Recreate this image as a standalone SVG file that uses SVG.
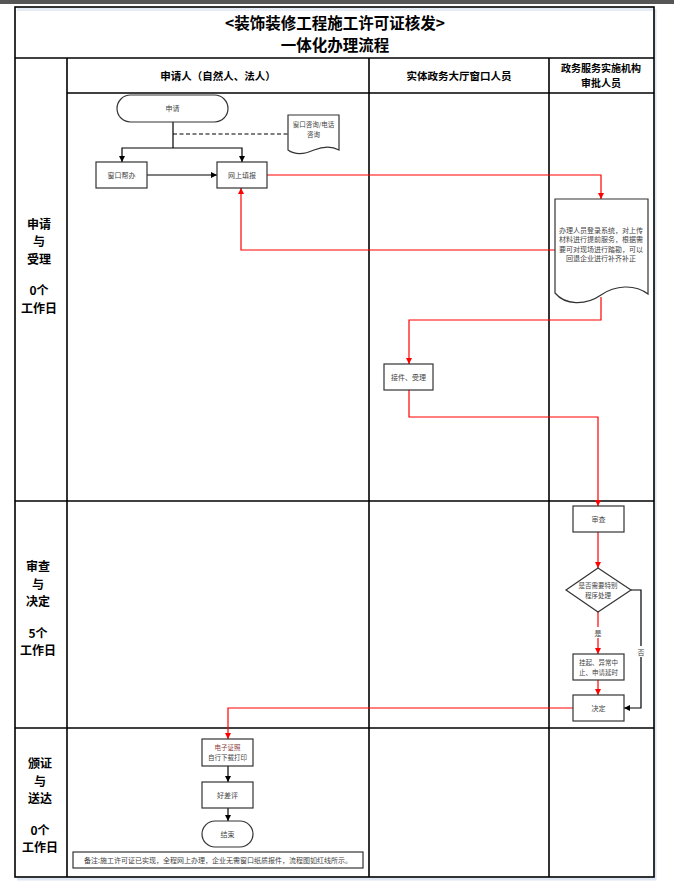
<svg xmlns="http://www.w3.org/2000/svg" width="674" height="895" viewBox="0 0 674 895">
<style>
.grid{fill:none;stroke:#000;stroke-width:1.6}
.box{fill:#fff;stroke:#333;stroke-width:1.2}
.t{font-family:"Noto Sans CJK SC","Liberation Sans",sans-serif;font-size:7px;fill:#444;text-anchor:middle}
.s{font-size:6.5px}
.h{font-family:"Noto Sans CJK SC","Liberation Sans",sans-serif;font-weight:bold;fill:#000;text-anchor:middle}
.lane{font-size:12px}
.red{fill:none;stroke:#ff0000;stroke-width:1.2}
.blk{fill:none;stroke:#000;stroke-width:1.2}
</style>
<defs>
<marker id="ar" viewBox="0 0 10 10" refX="10" refY="5" markerWidth="6" markerHeight="6" orient="auto" markerUnits="userSpaceOnUse"><path d="M0,0 L10,5 L0,10 Z" fill="#ff0000"/></marker>
<marker id="ab" viewBox="0 0 10 10" refX="10" refY="5" markerWidth="6" markerHeight="6" orient="auto" markerUnits="userSpaceOnUse"><path d="M0,0 L10,5 L0,10 Z" fill="#000"/></marker>
</defs>
<rect x="0" y="0" width="674" height="895" fill="#fff"/>
<rect x="0" y="0" width="674" height="4" fill="#555"/>
<rect x="17" y="8" width="636" height="3" fill="#e6ecf5"/>
<path d="M655,9 V879 H17" fill="none" stroke="#dde6f2" stroke-width="3"/>
<g id="frame">
<rect class="grid" x="15" y="7" width="639" height="870" stroke-width="2"/>
<line class="grid" x1="15" y1="58" x2="654" y2="58"/>
<line class="grid" x1="67" y1="93" x2="654" y2="93"/>
<line class="grid" x1="67" y1="58" x2="67" y2="877"/>
<line class="grid" x1="369" y1="58" x2="369" y2="877"/>
<line class="grid" x1="549" y1="58" x2="549" y2="877"/>
<line class="grid" x1="15" y1="501" x2="654" y2="501"/>
<line class="grid" x1="15" y1="728" x2="654" y2="728"/>
</g>
<g id="title">
<text class="h" x="335" y="28.5" font-size="15.5">&lt;装饰装修工程施工许可证核发&gt;</text>
<text class="h" x="335" y="50.5" font-size="15.5">一体化办理流程</text>
</g>
<g id="headers">
<text class="h" x="218" y="80" font-size="10.5">申请人（自然人、法人）</text>
<text class="h" x="459" y="80" font-size="10.5">实体政务大厅窗口人员</text>
<text class="h" x="601" y="72" font-size="10">政务服务实施机构</text>
<text class="h" x="601" y="86.5" font-size="10">审批人员</text>
</g>
<g id="lane1">
<text class="h lane" x="39" y="228.5">申请</text>
<text class="h lane" x="39" y="246">与</text>
<text class="h lane" x="39" y="263.5">受理</text>
<text class="h lane" x="39" y="295">0个</text>
<text class="h lane" x="39" y="312.5">工作日</text>
</g>
<g id="lane2">
<text class="h lane" x="38" y="571">审查</text>
<text class="h lane" x="38" y="588.5">与</text>
<text class="h lane" x="38" y="606">决定</text>
<text class="h lane" x="38" y="637.5">5个</text>
<text class="h lane" x="38" y="655">工作日</text>
</g>
<g id="lane3">
<text class="h lane" x="40" y="768">颁证</text>
<text class="h lane" x="40" y="785.5">与</text>
<text class="h lane" x="40" y="803">送达</text>
<text class="h lane" x="40" y="834.5">0个</text>
<text class="h lane" x="40" y="852">工作日</text>
</g>
<g id="connectors">
<line class="blk" x1="173" y1="122" x2="173" y2="148"/>
<line class="blk" x1="173" y1="134" x2="288" y2="134" stroke-dasharray="4,2.5"/>
<polyline class="blk" points="173,148 122,148 122,162" marker-end="url(#ab)"/>
<polyline class="blk" points="173,148 242,148 242,162" marker-end="url(#ab)"/>
<line class="blk" x1="147" y1="175" x2="217" y2="175" marker-end="url(#ab)"/>
<polyline class="red" points="267,175 601,175 601,199" marker-end="url(#ar)"/>
<polyline class="red" points="555,250 241,250 241,188" marker-end="url(#ar)"/>
<polyline class="red" points="601,297 601,320 409,320 409,364" marker-end="url(#ar)"/>
<polyline class="red" points="409,390 409,417 598,417 598,506" marker-end="url(#ar)"/>
<line class="red" x1="598" y1="532" x2="598" y2="568" marker-end="url(#ar)"/>
<line class="red" x1="598" y1="612" x2="598" y2="654" marker-end="url(#ar)"/>
<line class="red" x1="598" y1="680" x2="598" y2="695" marker-end="url(#ar)"/>
<polyline class="blk" points="631,590 641,590 641,708 624,708" marker-end="url(#ab)"/>
<polyline class="red" points="573,708 228,708 228,739" marker-end="url(#ar)"/>
<line class="blk" x1="228" y1="766" x2="228" y2="782" marker-end="url(#ab)"/>
<line class="blk" x1="228" y1="808" x2="228" y2="821" marker-end="url(#ab)"/>
<rect x="593" y="627" width="10" height="11" fill="#fff"/>
<text class="t" x="598" y="635.5">是</text>
<rect x="636" y="646" width="10" height="11" fill="#fff"/>
<text class="t" x="641" y="654.5">否</text>
</g>
<g id="n-apply">
<rect class="box" x="117" y="95" width="111" height="27" rx="13.5"/>
<text class="t" x="172.5" y="111">申请</text>
</g>
<g id="n-consult">
<path class="box" d="M288,115 H339 V150 C332,146 324,146 314,150 C303,155 295,155 288,150 Z"/>
<text class="t s" x="313.5" y="127">窗口咨询/电话</text>
<text class="t s" x="313.5" y="137">咨询</text>
</g>
<g id="n-window">
<rect class="box" x="96" y="162" width="51" height="26"/>
<text class="t" x="121.5" y="177.5">窗口帮办</text>
</g>
<g id="n-online">
<rect class="box" x="217" y="162" width="50" height="26"/>
<text class="t" x="242" y="177.5">网上填报</text>
</g>
<g id="n-login">
<path class="box" d="M555,199 H648 V294 C635,284 615,285 601,295 C585,306 565,305 555,293 Z"/>
<text class="t" x="601" y="233" font-size="6.4">办理人员登录系统，对上传</text>
<text class="t" x="601" y="242.3" font-size="6.4">材料进行提前服务，根据需</text>
<text class="t" x="601" y="251.6" font-size="6.4">要可对现场进行踏勘，可以</text>
<text class="t" x="601" y="260.9" font-size="6.4">回退企业进行补齐补正</text>
</g>
<g id="n-accept">
<rect class="box" x="384" y="364" width="49" height="26"/>
<text class="t" x="408.5" y="379.5">接件、受理</text>
</g>
<g id="n-review">
<rect class="box" x="573" y="506" width="51" height="26"/>
<text class="t" x="598.5" y="521.5">审查</text>
</g>
<g id="n-special">
<path class="box" d="M598,568 L631,590 L598,612 L566,590 Z"/>
<text class="t s" x="598" y="588">是否需要特别</text>
<text class="t s" x="598" y="597.5">程序处理</text>
</g>
<g id="n-suspend">
<rect class="box" x="573" y="654" width="51" height="26"/>
<text class="t s" x="598.5" y="665">挂起、异常中</text>
<text class="t s" x="598.5" y="674.5">止、申请延时</text>
</g>
<g id="n-decide">
<rect class="box" x="573" y="695" width="51" height="26"/>
<text class="t" x="598.5" y="710.5">决定</text>
</g>
<g id="n-license">
<rect class="box" x="202" y="739" width="51" height="27"/>
<text class="t s" x="227.5" y="750" style="fill:#8b4040">电子证照</text>
<text class="t s" x="227.5" y="759.5">自行下载打印</text>
</g>
<g id="n-rate">
<rect class="box" x="202" y="782" width="51" height="26"/>
<text class="t" x="227.5" y="797.5">好差评</text>
</g>
<g id="n-end">
<rect class="box" x="202" y="821" width="51" height="26" rx="13"/>
<text class="t" x="227.5" y="836.5">结束</text>
</g>
<g id="n-note">
<rect class="box" x="73" y="852" width="290" height="16"/>
<text class="t" x="218" y="862.5">备注:施工许可证已实现，全程网上办理，企业无需窗口纸质报件，流程图如红线所示。</text>
</g>
</svg>
